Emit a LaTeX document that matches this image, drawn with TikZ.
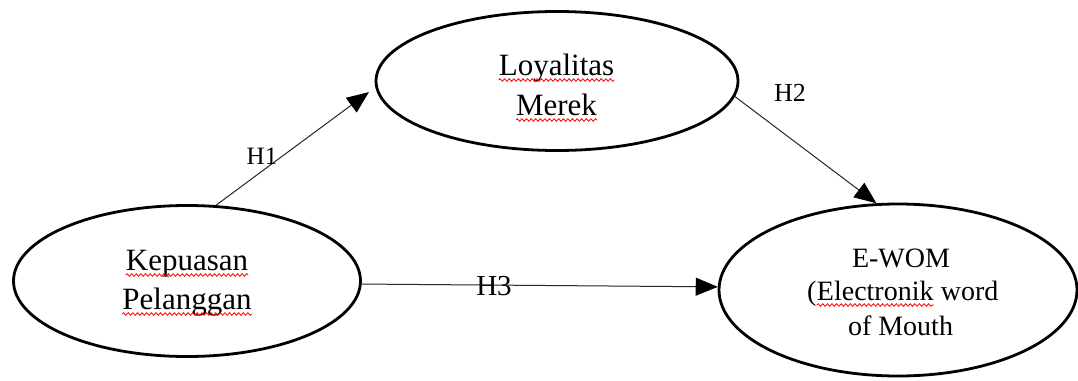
\documentclass[tikz,border=0pt]{standalone}
\usepackage{fontspec}
\setmainfont{Liberation Serif}
\usetikzlibrary{arrows.meta,decorations.pathmorphing,shapes.geometric}
\begin{document}
\begin{tikzpicture}[x=1pt,y=-1pt,
  oval/.style={draw=black,line width=2.8pt,ellipse,inner sep=0pt},
  bigtxt/.style={inner sep=0pt,anchor=base,font=\fontsize{31}{36}\selectfont},
  ewtxt/.style={inner sep=0pt,anchor=base,font=\fontsize{28}{33}\selectfont},
  hlab/.style={inner sep=0pt,anchor=base},
  link/.style={draw=black!85,line width=1pt,-{Triangle[length=22pt,width=18pt,color=black,fill=black]}},
  wavy/.style={draw=red,line width=0.8pt,decorate,decoration={snake,amplitude=1.3pt,segment length=4.6pt}}]
\fill[white] (0,0) rectangle (1078,380);
\useasboundingbox (0,0) rectangle (1078,380);
% ellipses
\node[oval,minimum width=347pt,minimum height=151pt] (kp) at (187,281) {};
\node[oval,minimum width=362pt,minimum height=139pt] (lm) at (557,81) {};
\node[oval,minimum width=358pt,minimum height=172pt] (ew) at (898,290) {};
% texts
\node[bigtxt] (kp1) at (187,270) {Kepuasan};
\node[bigtxt] (kp2) at (187,309) {Pelanggan};
\node[bigtxt] (lm1) at (556.5,75) {Loyalitas};
\node[bigtxt] (lm2) at (556.5,115) {Merek};
\node[ewtxt] (ew1) at (901,267) {E-WOM};
\node[ewtxt,anchor=base west] (ew2a) at (807,300) {(};
\node[ewtxt,anchor=base west] (ew2b) at (ew2a.base east) {Electronik};
\node[ewtxt,anchor=base west] (ew2c) at (ew2b.base east) {\ word};
\node[ewtxt] (ew3) at (900.5,335) {of Mouth};
% spell-check underlines
\foreach \n in {kp1,kp2,lm1,lm2,ew2b}{
  \draw[wavy] ([yshift=-5pt]\n.base west) -- ([yshift=-5pt]\n.base east);
}
% connectors
\draw[link,shorten >=8pt] (kp.69) -- (lm.182);
\draw[link] (lm.-5) -- (ew.104);
\draw[link] (kp.-1) -- (ew.179);
% labels
\node[hlab,font=\fontsize{25}{30}\selectfont] (h1) at (262,164) {H1};
\node[hlab,font=\fontsize{26}{30}\selectfont] (h2) at (790,101) {H2};
\node[hlab,font=\fontsize{29}{34}\selectfont] (h3) at (494,295) {H3};
\end{tikzpicture}
\end{document}
